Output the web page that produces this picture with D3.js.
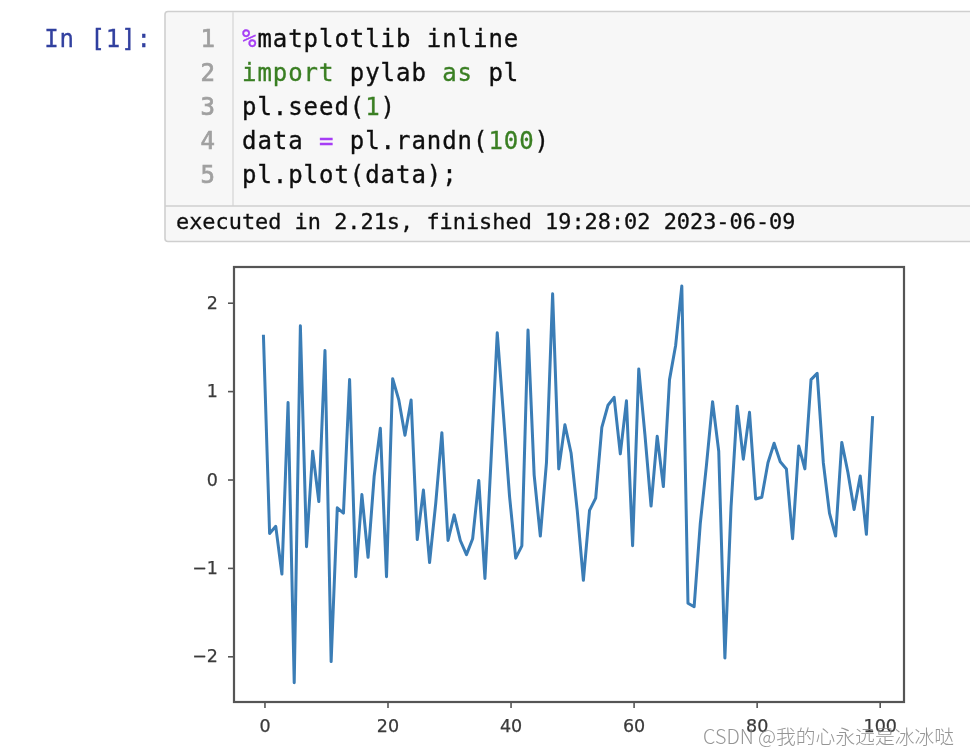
<!DOCTYPE html>
<html>
  <head>
    <title>In [1]</title>
    <meta http-equiv="Content-Type" content="text/html; charset=UTF-8">
    <script src="https://d3js.org/d3.v7.min.js"></script>
    <style>
      html, body { margin: 0; padding: 0; background: #fff; }
      svg { display: block; }
      .code text, .code tspan { font-family: "DejaVu Sans Mono", monospace; }
      .tick text { font-family: "DejaVu Sans", sans-serif; }
    </style>
  </head>

  <body>

    <div id="chart"></div>

    <script>
      // values
      var data = [1.62, -0.61, -0.53, -1.07, 0.87, -2.30, 1.74, -0.76, 0.32, -0.25,
        1.46, -2.06, -0.32, -0.38, 1.13, -1.10, -0.17, -0.88, 0.04, 0.58,
        -1.10, 1.14, 0.90, 0.50, 0.90, -0.68, -0.12, -0.94, -0.27, 0.53,
        -0.69, -0.40, -0.69, -0.85, -0.67, -0.01, -1.12, 0.23, 1.66, 0.74,
        -0.19, -0.89, -0.75, 1.69, 0.05, -0.64, 0.19, 2.10, 0.12, 0.62,
        0.30, -0.35, -1.14, -0.35, -0.21, 0.59, 0.84, 0.93, 0.29, 0.89,
        -0.75, 1.25, 0.51, -0.30, 0.49, -0.08, 1.13, 1.52, 2.19, -1.40,
        -1.44, -0.50, 0.16, 0.88, 0.32, -2.02, -0.31, 0.83, 0.23, 0.76,
        -0.22, -0.20, 0.19, 0.41, 0.20, 0.12, -0.67, 0.38, 0.12, 1.13,
        1.20, 0.19, -0.38, -0.64, 0.42, 0.08, -0.34, 0.04, -0.62, 0.70];
      var xTicks = [0, 20, 40, 60, 80, 100];
      var yTicks = [-2, -1, 0, 1, 2];

      var promptText = "In [1]:";
      var lineNumbers = ["1", "2", "3", "4", "5"];
      var codeLines = [
        [["%", "magic"], ["matplotlib inline", "plain"]],
        [["import", "kw"], [" pylab ", "plain"], ["as", "kw"], [" pl", "plain"]],
        [["pl.seed(", "plain"], ["1", "num"], [")", "plain"]],
        [["data ", "plain"], ["=", "magic"], [" pl.randn(", "plain"], ["100", "num"], [")", "plain"]],
        [["pl.plot(data);", "plain"]]
      ];
      var outputText = "executed in 2.21s, finished 19:28:02 2023-06-09";
      var watermark = "CSDN @我的心永远是冰冰哒";

      var tokenColors = { magic: "#a63df5", kw: "#3a7f24", num: "#3a7f24", plain: "#111" };

      var svg = d3.select("#chart").append("svg").attr("width", 970).attr("height", 756);

      // soft edge, the reference is an upscaled screenshot
      var defs = svg.append("defs");
      defs.append("filter").attr("id", "soft")
        .append("feGaussianBlur").attr("stdDeviation", 0.6);
      defs.append("filter").attr("id", "softer")
        .append("feGaussianBlur").attr("stdDeviation", 0.35);

      // notebook cell
      var cell = svg.append("g").attr("class", "code").attr("filter", "url(#softer)");
      cell.append("text").attr("x", 152).attr("y", 46.5)
        .attr("text-anchor", "end").attr("font-size", 24).attr("letter-spacing", 0.95)
        .attr("fill", "#303f9f").attr("stroke", "#303f9f").attr("stroke-width", 0.3)
        .text(promptText);

      cell.append("rect").attr("x", 165).attr("y", 11.5)
        .attr("width", 830).attr("height", 230).attr("rx", 3)
        .attr("fill", "#f7f7f7").attr("stroke", "#cfcfcf").attr("stroke-width", 1.6);
      cell.append("line").attr("x1", 233).attr("x2", 233).attr("y1", 12).attr("y2", 206)
        .attr("stroke", "#dcdcdc").attr("stroke-width", 1.6);
      cell.append("line").attr("x1", 165).attr("x2", 970).attr("y1", 206).attr("y2", 206)
        .attr("stroke", "#cfcfcf").attr("stroke-width", 1.6);

      var lineY = d3.scalePoint().domain(d3.range(5)).range([46.5, 182.5]);

      cell.selectAll(".ln").data(lineNumbers).enter().append("text").attr("class", "ln")
        .attr("x", 215).attr("y", function(d, i) { return lineY(i); })
        .attr("text-anchor", "end").attr("font-size", 24)
        .attr("fill", "#a0a0a0").attr("stroke", "#a0a0a0").attr("stroke-width", 0.7)
        .text(function(d) { return d; });

      var codeText = cell.selectAll(".cl").data(codeLines).enter().append("text").attr("class", "cl")
        .attr("x", 242).attr("y", function(d, i) { return lineY(i); })
        .attr("font-size", 24).attr("letter-spacing", 0.95)
        .attr("stroke-width", 0.35)
        .attr("xml:space", "preserve").style("white-space", "pre");
      codeText.selectAll("tspan").data(function(d) { return d; }).enter().append("tspan")
        .attr("fill", function(d) { return tokenColors[d[1]]; })
        .attr("stroke", function(d) { return tokenColors[d[1]]; })
        .text(function(d) { return d[0]; });

      cell.append("text").attr("x", 176).attr("y", 229)
        .attr("font-size", 21.9).attr("fill", "#111").attr("stroke", "#111").attr("stroke-width", 0.3)
        .text(outputText);

      // plot
      var x = d3.scaleLinear().domain([-4.95, 103.95]).range([234, 904]);
      var y = d3.scaleLinear().domain([-2.517, 2.404]).range([702, 267]);

      var line = d3.line()
        .x(function(d, i) { return x(i); })
        .y(function(d) { return y(d); });

      // the line sits a pixel left of the ticks in the screenshot
      svg.append("path").datum(data)
        .attr("transform", "translate(-1,0)")
        .attr("d", line)
        .attr("fill", "none")
        .attr("stroke", "#3a7db6")
        .attr("stroke-width", 3)
        .attr("stroke-linejoin", "round")
        .attr("stroke-linecap", "square")
        .attr("filter", "url(#soft)");

      var xAxis = svg.append("g").attr("class", "axis")
        .attr("transform", "translate(0,702)")
        .call(d3.axisBottom(x).tickValues(xTicks).tickSize(6).tickPadding(12).tickFormat(d3.format("d")));
      var yAxis = svg.append("g").attr("class", "axis")
        .attr("transform", "translate(234,0)")
        .call(d3.axisLeft(y).tickValues(yTicks).tickSize(6).tickPadding(10).tickFormat(d3.format("d")));

      svg.selectAll(".axis .domain").remove();
      svg.selectAll(".axis .tick line").attr("stroke", "#555").attr("stroke-width", 1.6);
      svg.selectAll(".axis .tick text").attr("font-size", 17.5).attr("fill", "#3a3a3a")
        .attr("stroke", "#3a3a3a").attr("stroke-width", 0.25);
      svg.selectAll(".axis").attr("filter", "url(#softer)");

      svg.append("rect").attr("x", 234).attr("y", 267).attr("width", 670).attr("height", 435)
        .attr("fill", "none").attr("stroke", "#555").attr("stroke-width", 2.2)
        .attr("filter", "url(#softer)");

      svg.append("text").attr("x", 703).attr("y", 744)
        .attr("font-family", "'Noto Sans CJK SC', sans-serif")
        .attr("font-size", 19.8).attr("font-weight", 300)
        .attr("fill", "#8a8a8a").attr("fill-opacity", 0.9)
        .attr("filter", "url(#softer)")
        .text(watermark);
    </script>
  </body>
</html>
